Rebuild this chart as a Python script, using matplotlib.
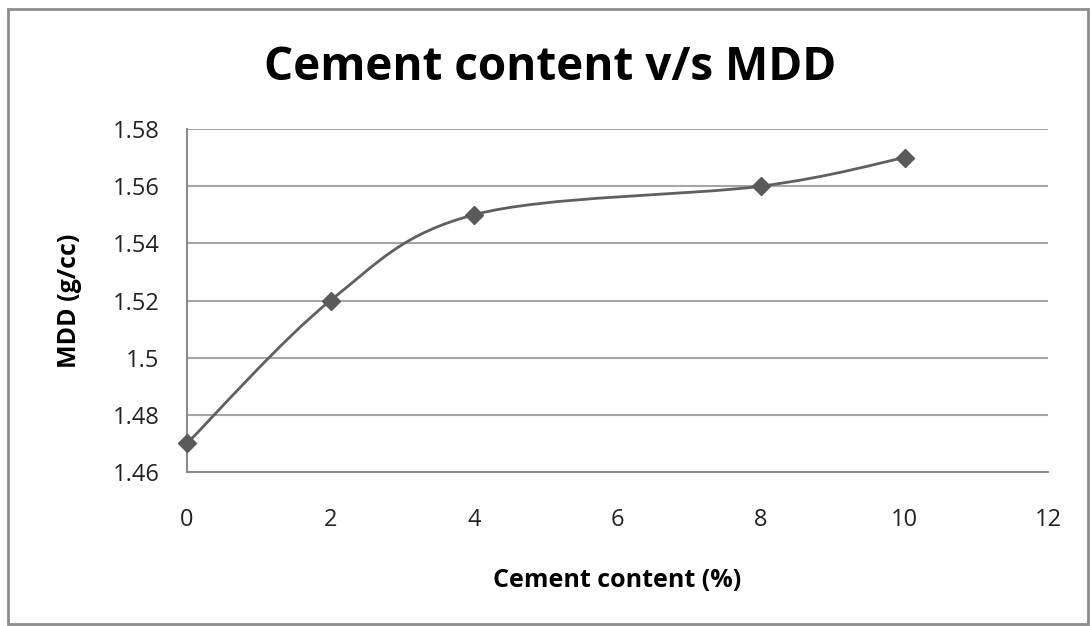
import matplotlib.pyplot as plt
from matplotlib.path import Path
from matplotlib.patches import PathPatch, Rectangle

cement = [0, 2, 4, 8, 10]
mdd = [1.47, 1.52, 1.55, 1.56, 1.57]
x_ticks = [0, 2, 4, 6, 8, 10, 12]
y_ticks = [1.46, 1.48, 1.50, 1.52, 1.54, 1.56, 1.58]
y_labels = ['1.46', '1.48', '1.5', '1.52', '1.54', '1.56', '1.58']

plt.rcParams['font.family'] = ['Open Sans', 'DejaVu Sans']

fig = plt.figure(figsize=(10.91, 6.26), dpi=100)
ax = fig.add_axes([187 / 1091, 1 - 472 / 626, (1048 - 187) / 1091, (472 - 129) / 626])

# outer frame like the Excel chart area
fig.patches.append(Rectangle((8 / 1091, 2 / 626), 1080 / 1091, 615 / 626,
                             transform=fig.transFigure, fill=False,
                             edgecolor='#8c8c8c', linewidth=2))

# smoothed line (Catmull-Rom style bezier through the points)
pts = list(zip(cement, mdd))
verts = [pts[0]]
codes = [Path.MOVETO]
for i in range(len(pts) - 1):
    p0 = pts[i - 1] if i > 0 else pts[i]
    p1 = pts[i]
    p2 = pts[i + 1]
    p3 = pts[i + 2] if i + 2 < len(pts) else pts[i + 1]
    c1 = (p1[0] + (p2[0] - p0[0]) / 6, p1[1] + (p2[1] - p0[1]) / 6)
    c2 = (p2[0] - (p3[0] - p1[0]) / 6, p2[1] - (p3[1] - p1[1]) / 6)
    verts += [c1, c2, p2]
    codes += [Path.CURVE4] * 3
ax.add_patch(PathPatch(Path(verts, codes), fill=False, edgecolor='#5f5f5f',
                       linewidth=2, zorder=3))
ax.plot(cement, mdd, linestyle='none', marker='D', markersize=9.5,
        color='#5a5a5a', zorder=4, clip_on=False)

ax.set_xlim(0, 12)
ax.set_ylim(1.46, 1.58)
ax.set_xticks(x_ticks)
ax.set_yticks(y_ticks)
ax.set_yticklabels(y_labels)
ax.tick_params(length=0, labelsize=17, colors='#222222')
ax.tick_params(axis='y', pad=20)
ax.tick_params(axis='x', pad=26)
ax.grid(axis='y', color='#a6a6a6', linewidth=1.5)
ax.set_axisbelow(True)
for s in ['top', 'right']:
    ax.spines[s].set_visible(False)
for s in ['left', 'bottom']:
    ax.spines[s].set_color('#8c8c8c')
    ax.spines[s].set_linewidth(1.5)

ax.set_xlabel('Cement content (%)', fontsize=18, fontweight='bold', labelpad=26)
ax.set_ylabel('MDD (g/cc)', fontsize=18, fontweight='bold', labelpad=22)
fig.text(550 / 1091, 1 - 67 / 626, 'Cement content v/s MDD', fontsize=33,
         fontweight='bold', ha='center', va='center')

fig.savefig('out.png', dpi=100)
